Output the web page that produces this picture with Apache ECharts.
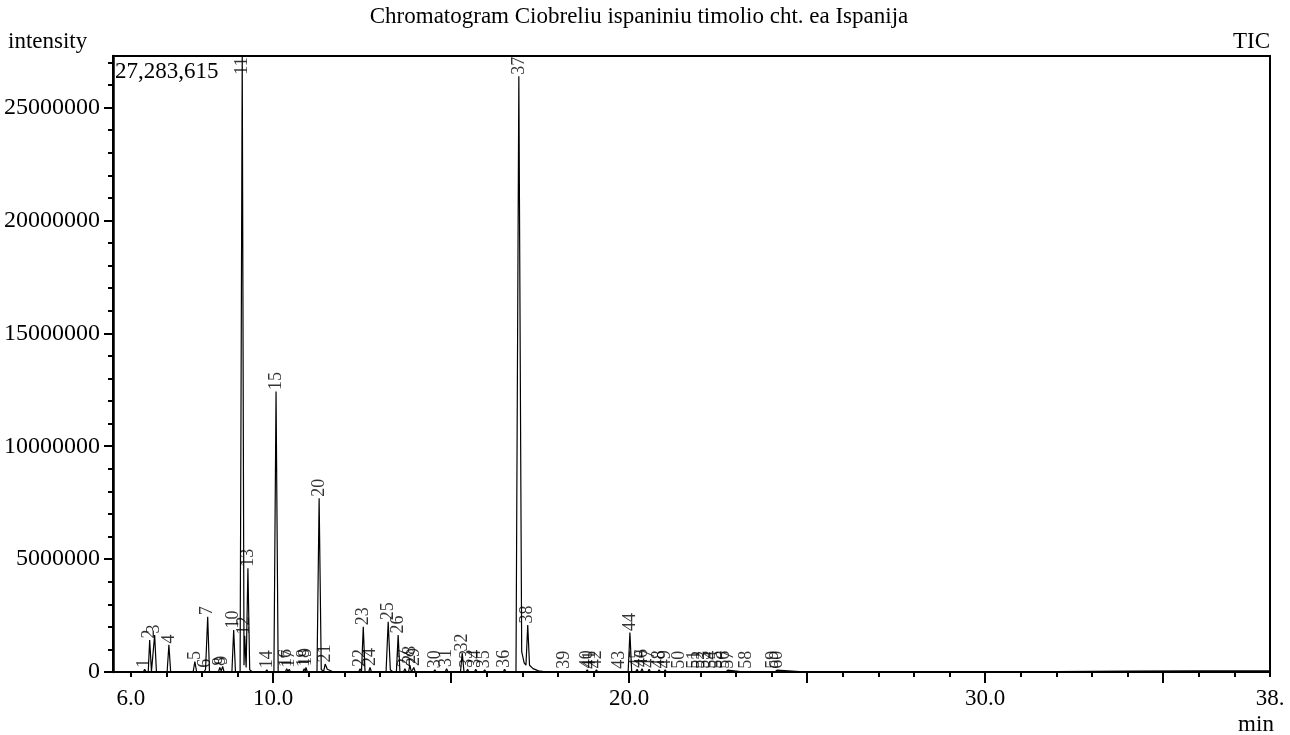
<!DOCTYPE html>
<html><head><meta charset="utf-8">
<script src="https://cdn.jsdelivr.net/npm/echarts@6/dist/echarts.min.js"></script>
<style>html,body{margin:0;padding:0;background:#fff}#c{width:1290px;height:735px}</style>
</head><body><div id="c"></div>
<script>
// Chromatogram trace (retention time in min, intensity)
const traceTime = [
  5.50, 6.35, 6.39, 6.43, 6.49, 6.53, 6.58, 6.63, 6.67, 6.72,
  7.02, 7.07, 7.12, 7.75, 7.80, 7.85, 8.06, 8.10, 8.12, 8.16, 8.21,
  8.46, 8.50, 8.54, 8.58, 8.62, 8.84, 8.89, 8.94,
  9.07, 9.13, 9.18, 9.20, 9.24, 9.29, 9.34, 9.42,
  9.78, 9.82, 9.86, 10.02, 10.08, 10.14,
  10.34, 10.38, 10.41, 10.45, 10.49, 10.83, 10.87, 10.90, 10.92, 10.96,
  11.23, 11.29, 11.35, 11.42, 11.46, 11.52, 11.65, 11.80,
  11.90, 11.95, 12.00, 12.40, 12.44, 12.48, 12.53, 12.58, 12.68, 12.72, 12.76,
  13.17, 13.23, 13.29, 13.35, 13.46, 13.51, 13.56,
  13.66, 13.70, 13.74, 13.80, 13.84, 13.88, 13.91, 13.95, 13.99,
  14.50, 14.54, 14.58, 14.83, 14.87, 14.91,
  15.26, 15.31, 15.36, 15.42, 15.46, 15.50, 15.65, 15.69, 15.73, 15.90, 15.94, 15.98,
  16.46, 16.50, 16.54, 16.82, 16.90, 16.98, 17.05, 17.10, 17.15, 17.20, 17.30, 17.45, 17.70,
  18.14, 18.18, 18.22, 18.78, 18.82, 18.86, 18.88, 18.91, 18.94, 19.04, 19.08, 19.12,
  19.68, 19.72, 19.76, 19.97, 20.02, 20.07,
  20.18, 20.22, 20.26, 20.32, 20.36, 20.40, 20.52, 20.56, 20.60,
  20.80, 20.84, 20.88, 20.97, 21.01, 21.05, 21.36, 21.40, 21.44,
  21.78, 21.82, 21.86, 21.92, 21.96, 22.00, 22.06, 22.10, 22.14,
  22.26, 22.30, 22.34, 22.42, 22.46, 22.50, 22.62, 22.66, 22.70, 22.73, 22.77, 22.81,
  23.24, 23.28, 23.32, 24.02, 24.06, 24.09, 24.12, 24.15, 24.19,
  25.0, 28.0, 32.0, 34.0, 36.0, 38.0
];
const traceIntensity = [
  0, 0, 120000, 0, 0, 1420000, 30000, 0, 1640000, 0,
  0, 1200000, 0, 0, 460000, 0, 0, 120000, 60000, 2450000, 0,
  0, 200000, 50000, 250000, 0, 0, 1860000, 0,
  0, 27283615, 300000, 1600000, 200000, 4600000, 100000, 0,
  0, 100000, 0, 0, 12420000, 0,
  0, 150000, 30000, 120000, 0, 0, 150000, 40000, 200000, 0,
  0, 7700000, 100000, 50000, 350000, 120000, 30000, 0,
  0, 80000, 0, 0, 150000, 0, 2000000, 0, 0, 200000, 0,
  0, 2230000, 100000, 20000, 0, 1640000, 0,
  0, 150000, 0, 0, 300000, 0, 0, 200000, 0,
  0, 100000, 0, 0, 150000, 0,
  0, 840000, 0, 0, 120000, 0, 0, 120000, 0, 0, 100000, 0,
  0, 120000, 0, 0, 26390000, 900000, 400000, 300000, 2080000, 300000, 150000, 50000, 0,
  0, 80000, 0, 0, 100000, 0, 0, 80000, 0, 0, 100000, 0,
  0, 80000, 0, 0, 1750000, 0,
  0, 120000, 0, 0, 150000, 0, 0, 120000, 0,
  0, 100000, 0, 0, 100000, 0, 0, 80000, 0,
  0, 80000, 0, 0, 80000, 0, 0, 80000, 0,
  0, 80000, 0, 0, 80000, 0, 0, 80000, 0, 0, 80000, 0,
  0, 80000, 0, 0, 80000, 0, 0, 80000, 0,
  0, 10000, 20000, 40000, 50000, 50000
];
// Peak labels
const peakNo = [1,2,3,4,5,6,7,8,9,10,11,12,13,14,15,16,17,18,19,20,21,22,23,24,25,26,27,28,29,30,
  31,32,33,34,35,36,37,38,39,40,41,42,43,44,45,46,47,48,49,50,51,52,53,54,55,56,57,58,59,60];
const peakTime = [6.39,6.53,6.67,7.07,7.80,8.10,8.16,8.50,8.58,8.89,9.13,9.20,9.29,9.82,10.08,10.38,10.45,10.87,10.92,11.29,
  11.46,12.44,12.53,12.72,13.23,13.51,13.70,13.84,13.95,14.54,14.87,15.31,15.46,15.69,15.94,16.50,16.90,17.15,18.18,18.82,
  18.91,19.08,19.72,20.02,20.22,20.36,20.56,20.84,21.01,21.40,21.82,21.96,22.10,22.30,22.46,22.66,22.77,23.28,24.06,24.15];
const peakHeight = [120000,1420000,1640000,1200000,460000,120000,2450000,200000,250000,1860000,27283615,1600000,4600000,100000,12420000,150000,120000,150000,200000,7700000,
  350000,150000,2000000,200000,2230000,1640000,150000,300000,200000,100000,150000,840000,120000,120000,100000,120000,26390000,2080000,80000,100000,
  80000,100000,80000,1750000,120000,150000,120000,100000,100000,80000,80000,80000,80000,80000,80000,80000,80000,80000,80000,80000];
// Axis ticks / labels
const xLabelValues = [6, 10, 20, 30, 38];
const xMajorTicks = [10, 15, 20, 25, 30, 35];
const xMinorTicks = [6,7,8,9,10,11,12,13,14,15,16,17,18,19,20,21,22,23,24,25,26,27,28,29,30,31,32,33,34,35,36,37,38];
const yLabelValues = [0, 5000000, 10000000, 15000000, 20000000, 25000000];
const yMinorTicks = [0,1000000,2000000,3000000,4000000,5000000,6000000,7000000,8000000,9000000,10000000,11000000,12000000,13000000,
  14000000,15000000,16000000,17000000,18000000,19000000,20000000,21000000,22000000,23000000,24000000,25000000,26000000,27000000];
const yMax = 27283615;
const xMin = 5.5, xMax = 38;

const F = '"Liberation Serif", "Times New Roman", serif';
const chart = echarts.init(document.getElementById('c'), null, {renderer: 'canvas'});
const labelCap = 26390000;
chart.setOption({
  animation: false,
  backgroundColor: '#fff',
  grid: {left: 113, right: 20, top: 56, bottom: 63, show: true, borderColor: '#000', borderWidth: 2, backgroundColor: 'transparent'},
  xAxis: [
    {type: 'value', min: xMin, max: xMax, position: 'bottom',
     axisLine: {lineStyle: {color: '#000', width: 2}},
     axisTick: {customValues: xMajorTicks, length: 11, lineStyle: {color: '#000', width: 2}},
     axisLabel: {customValues: xLabelValues, margin: 15, color: '#000', fontFamily: F, fontSize: 23,
       formatter: v => (v === 38 ? '38.' : v.toFixed(1))},
     splitLine: {show: false}},
    {type: 'value', min: xMin, max: xMax, position: 'bottom', offset: 0,
     axisLine: {show: false},
     axisTick: {customValues: xMinorTicks, length: 5, lineStyle: {color: '#000', width: 2}},
     axisLabel: {show: false}, splitLine: {show: false}}
  ],
  yAxis: [
    {type: 'value', min: 0, max: yMax, position: 'left',
     axisLine: {show: true, lineStyle: {color: '#000', width: 2.5}},
     axisTick: {customValues: yLabelValues, length: 9, lineStyle: {color: '#000', width: 2}},
     axisLabel: {customValues: yLabelValues, margin: 13, color: '#000', fontFamily: F, fontSize: 24,
       formatter: v => String(v)},
     splitLine: {show: false}},
    {type: 'value', min: 0, max: yMax, position: 'left', offset: 0,
     axisLine: {show: false},
     axisTick: {customValues: yMinorTicks, length: 5, lineStyle: {color: '#000', width: 2}},
     axisLabel: {show: false}, splitLine: {show: false}}
  ],
  series: [
    {type: 'line', xAxisIndex: 0, yAxisIndex: 0, showSymbol: false, symbol: 'none',
     lineStyle: {color: '#000', width: 1.2}, clip: true, z: 3,
     data: traceTime.map((t, i) => [t, traceIntensity[i]])},
    {type: 'scatter', xAxisIndex: 0, yAxisIndex: 0, symbolSize: 1,
     itemStyle: {color: 'rgba(0,0,0,0)'}, z: 4, silent: true,
     label: {show: true, position: 'top', distance: 1, rotate: 90, align: 'left', verticalAlign: 'middle',
       fontSize: 18, fontFamily: F, color: '#000', formatter: p => String(p.data[2])},
     data: peakTime.map((t, i) => [t, Math.min(peakHeight[i], labelCap), peakNo[i]])}
  ],
  graphic: [
    {type: 'text', x: 639, y: 17, style: {text: 'Chromatogram Ciobreliu ispaniniu timolio cht. ea Ispanija',
      font: '23px ' + F, fill: '#000', textAlign: 'center', textVerticalAlign: 'middle'}},
    {type: 'text', x: 8, y: 42, style: {text: 'intensity', font: '23px ' + F, fill: '#000', textAlign: 'left', textVerticalAlign: 'middle'}},
    {type: 'text', x: 1270, y: 42, style: {text: 'TIC', font: '23px ' + F, fill: '#000', textAlign: 'right', textVerticalAlign: 'middle'}},
    {type: 'text', x: 115, y: 72, style: {text: '27,283,615', font: '23px ' + F, fill: '#000', textAlign: 'left', textVerticalAlign: 'middle'}},
    {type: 'text', x: 1256, y: 725, style: {text: 'min', font: '23px ' + F, fill: '#000', textAlign: 'center', textVerticalAlign: 'middle'}}
  ]
});
</script>
</body></html>
